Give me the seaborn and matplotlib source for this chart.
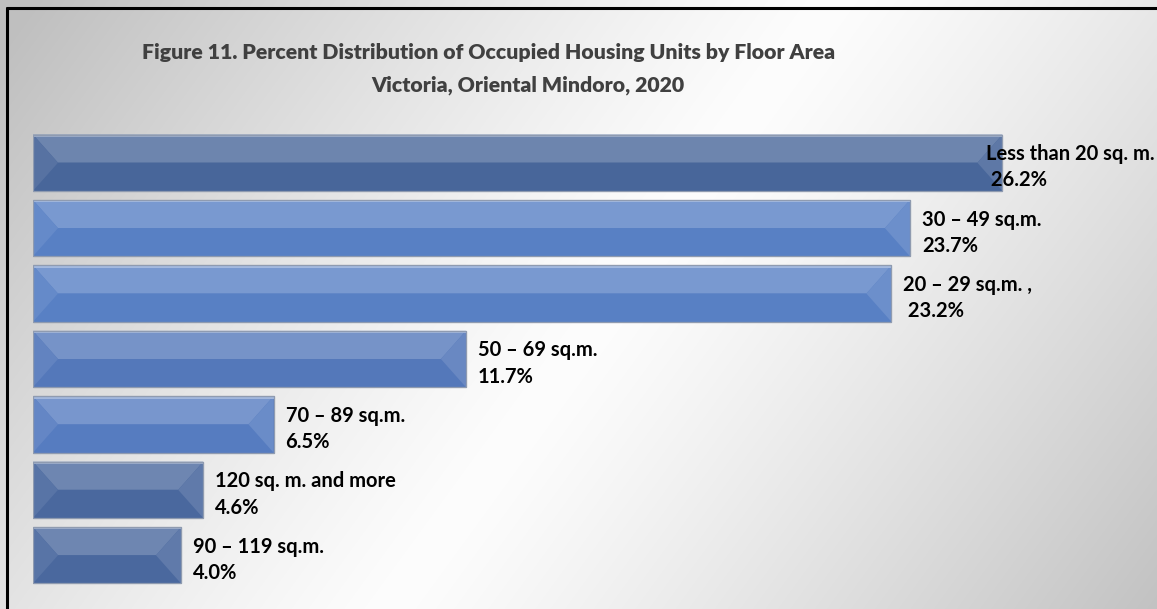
import matplotlib
matplotlib.use("Agg")
import numpy as np
import pandas as pd
import seaborn as sns
import matplotlib.pyplot as plt
from matplotlib.patches import Polygon
from matplotlib.lines import Line2D
from matplotlib.colors import to_rgb

categories = ["Less than 20 sq. m.", "30 – 49 sq.m.", "20 – 29 sq.m. ,", "50 – 69 sq.m.",
              "70 – 89 sq.m.", "120 sq. m. and more", "90 – 119 sq.m."]
values = [26.2, 23.7, 23.2, 11.7, 6.5, 4.6, 4.0]
value_labels = [" 26.2%", "23.7%", " 23.2%", "11.7%", "6.5%", "4.6%", "4.0%"]
bar_colors = ["#48669a", "#5880c4", "#5880c4", "#5478ba", "#567cc0", "#4a689e", "#4a689e"]

title_1 = "Figure 11. Percent Distribution of Occupied Housing Units by Floor Area"
title_2 = "Victoria, Oriental Mindoro, 2020"

sns.set_theme(style="white")
plt.rcParams["font.family"] = ["Lato", "DejaVu Sans"]

W, H = 1157, 609
fig = plt.figure(figsize=(W / 100, H / 100), dpi=100)
fig.patch.set_facecolor("white")

# background: diagonal grey-white-grey gradient
bg = fig.add_axes([0, 0, 1, 1])
xx, yy = np.meshgrid(np.arange(W), np.arange(H))
t = (550 * xx + 400 * yy) / (550 * W + 400 * H)
shade = 253 - 62 * np.clip(np.abs(t - 0.52) / 0.5, 0, 1) ** 1.2
bg.imshow(np.dstack([shade] * 3) / 255, aspect="auto", extent=[0, W, H, 0])
bg.set_xlim(0, W)
bg.set_ylim(H, 0)
bg.axis("off")

# frame (left and top only)
fig.add_artist(Line2D([7 / W, 7 / W], [0, 1 - 8 / H], color="black", lw=2.2))
fig.add_artist(Line2D([7 / W, 1], [1 - 8 / H, 1 - 8 / H], color="black", lw=2.2))

px_per_unit = 37.0
ax = fig.add_axes([33 / W, 1 - 588 / H, (1155 - 33) / W, 458 / H])
ax.patch.set_alpha(0)

df = pd.DataFrame({"category": categories, "value": values})
sns.barplot(data=df, x="value", y="category", hue="category", palette=bar_colors,
            legend=False, width=0.86, saturation=1, ax=ax,
            edgecolor="#8f9bb0", linewidth=0.8)
ax.set_xlim(0, (1155 - 33) / px_per_unit)
ax.set_ylim(len(values) - 0.5, -0.5)
ax.axis("off")


def mix(c, other, f):
    c = np.array(to_rgb(c))
    o = np.array(to_rgb(other))
    return tuple(c * (1 - f) + o * f)


# bevel faces on each bar
bevel = 25 / px_per_unit
for patch, col in zip(ax.patches, bar_colors):
    x0, y0 = patch.get_x(), patch.get_y()
    w, h = patch.get_width(), patch.get_height()
    b = min(bevel, w / 2)
    top, bot, mid = y0, y0 + h, y0 + h / 2
    faces = [
        ([(x0, top), (x0 + w, top), (x0 + w - b, mid), (x0 + b, mid)], mix(col, "white", 0.2)),
        ([(x0, bot), (x0 + w, bot), (x0 + w - b, mid), (x0 + b, mid)], col),
        ([(x0, top), (x0 + b, mid), (x0, bot)], mix(col, "white", 0.08)),
        ([(x0 + w, top), (x0 + w - b, mid), (x0 + w, bot)], mix(col, "white", 0.12)),
    ]
    for pts, fc in faces:
        ax.add_patch(Polygon(pts, closed=True, facecolor=fc, edgecolor="none", zorder=3))
    # thin highlight on top edge
    ax.add_patch(Polygon([(x0, top), (x0 + w, top), (x0 + w, top + h * 0.04), (x0, top + h * 0.04)],
                         closed=True, facecolor=mix(col, "white", 0.45), edgecolor="none", zorder=4))
    ax.add_patch(Polygon([(x0, top), (x0 + w, top), (x0 + w, bot), (x0, bot)], closed=True,
                         facecolor="none", edgecolor="#8f9bb0", lw=0.9, zorder=5))

# data labels
fig.canvas.draw()
renderer = fig.canvas.get_renderer()
for i, (cat, val, lab) in enumerate(zip(categories, values, value_labels)):
    txt = ax.text(val + 12 / px_per_unit, i + 0.07, f"{cat}\n{lab}", ha="left", va="center",
                  fontsize=14.5, fontweight="bold", color="black", linespacing=1.4,
                  zorder=6, clip_on=False)
    ext = txt.get_window_extent(renderer)
    if ext.x1 > W - 2:
        shift = (ext.x1 - (W - 2)) / px_per_unit
        txt.set_x(val + 12 / px_per_unit - shift)

fig.text(489 / W, 1 - 52 / H, title_1, ha="center", va="center", fontsize=15.3,
         fontweight="heavy", color="#404040")
fig.text(528 / W, 1 - 85 / H, title_2, ha="center", va="center", fontsize=15.3,
         fontweight="heavy", color="#404040")

fig.savefig("out.png", dpi=100)
